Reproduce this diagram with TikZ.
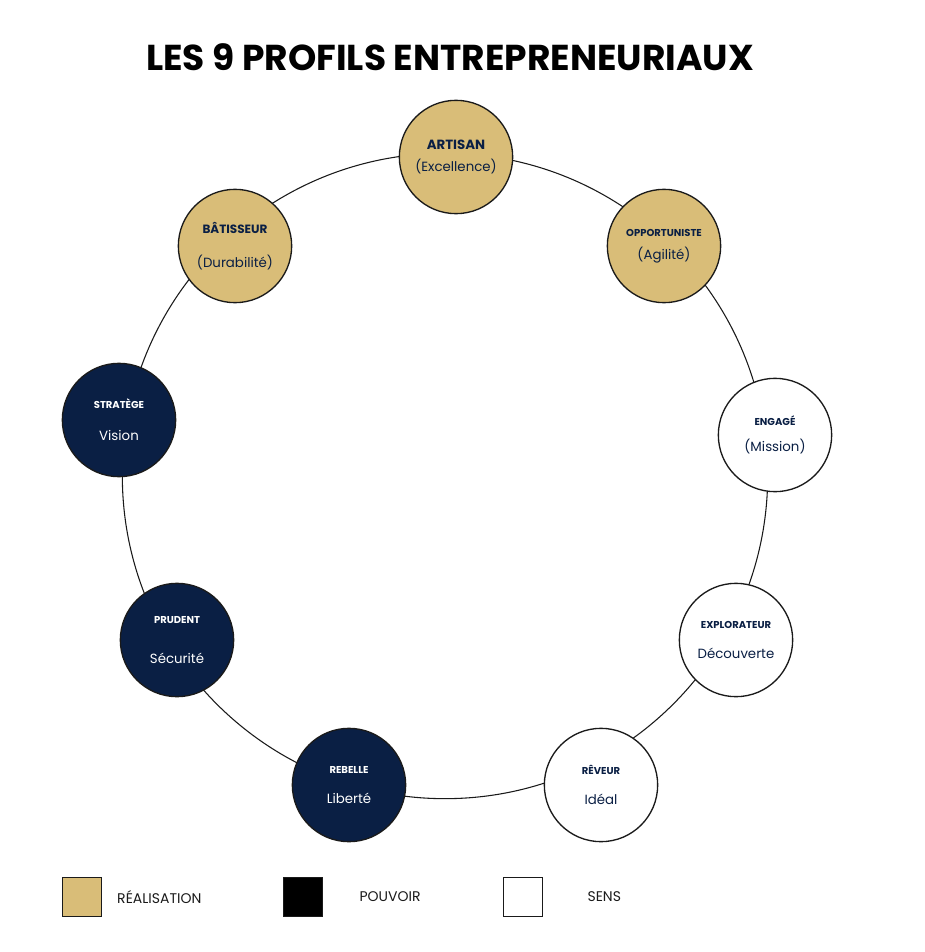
\documentclass[tikz,border=0pt]{standalone}
\usepackage{fontspec}
\setmainfont{Poppins}
\usepackage{tikz}
\usetikzlibrary{positioning}
\definecolor{gold}{HTML}{D9BD78}
\definecolor{navy}{HTML}{0A1F44}
\definecolor{ink}{HTML}{1A1A1A}

\begin{document}
\begin{tikzpicture}[
    x=0.75pt, y=-0.75pt,
    profil/.style={circle, draw=ink, line width=1pt, minimum size=85pt, inner sep=0pt, align=center},
    real/.style={profil, fill=gold, text=navy},
    pouv/.style={profil, fill=navy, text=white},
    sens/.style={profil, fill=white, text=navy},
    carre/.style={draw=ink, line width=0.8pt, minimum size=29pt, inner sep=0pt},
    leg/.style={font=\fontsize{10.5}{12}\selectfont, text=ink}
]
    \useasboundingbox (0,0) rectangle (924,952);

    % Title
    \node[font=\fontsize{27}{32}\selectfont\bfseries] (titre) at (450,57) {LES 9 PROFILS ENTREPRENEURIAUX};

    % Ring
    \draw[ink, line width=0.8pt] (445,476) circle (242pt);

    % Profiles
    \node[real] (artisan) at (456,157) {\fontsize{10}{12}\selectfont\bfseries ARTISAN\\[5pt]\fontsize{10}{12}\selectfont(Excellence)};
    \node[real] (opport) at (664,246) {\fontsize{7.5}{9}\selectfont\bfseries OPPORTUNISTE\\[5pt]\fontsize{10}{12}\selectfont(Agilité)};
    \node[sens] (engage) at (775,435) {\fontsize{7.5}{9}\selectfont\bfseries ENGAGÉ\\[8pt]\fontsize{10}{12}\selectfont(Mission)};
    \node[sens] (explo) at (736,640) {\fontsize{7.5}{9}\selectfont\bfseries EXPLORATEUR\\[10pt]\fontsize{10}{12}\selectfont Découverte};
    \node[sens] (reveur) at (601,785) {\fontsize{7.5}{9}\selectfont\bfseries RÊVEUR\\[10pt]\fontsize{10}{12}\selectfont Idéal};
    \node[pouv] (rebelle) at (349,785) {\fontsize{7.5}{9}\selectfont\bfseries REBELLE\\[10pt]\fontsize{10}{12}\selectfont Liberté};
    \node[pouv] (prudent) at (177,640) {\fontsize{7.5}{9}\selectfont\bfseries PRUDENT\\[18pt]\fontsize{10}{12}\selectfont Sécurité};
    \node[pouv] (stratege) at (119,420) {\fontsize{7.5}{9}\selectfont\bfseries STRATÈGE\\[12pt]\fontsize{10}{12}\selectfont Vision};
    \node[real] (batisseur) at (235,246) {\fontsize{9}{11}\selectfont\bfseries BÂTISSEUR\\[14pt]\fontsize{10}{12}\selectfont(Durabilité)};

    % Legend
    \node[carre, fill=gold] (c1) at (82,897) {};
    \node[leg, right=8pt of c1] (l1) {RÉALISATION};
    \node[carre, fill=black] (c2) at (303,897) {};
    \node[leg, right=24pt of c2] (l2) {POUVOIR};
    \node[carre, fill=white] (c3) at (523,897) {};
    \node[leg, right=30pt of c3] (l3) {SENS};
\end{tikzpicture}
\end{document}
